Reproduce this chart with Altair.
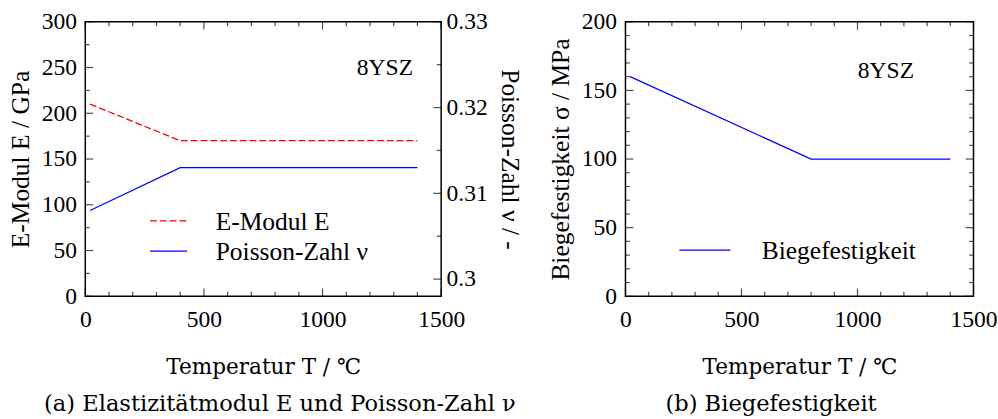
import altair as alt
import pandas as pd

# ---------------- data ----------------
temp_e = [20, 400, 1400]
e_modul = [210, 170, 170]
temp_nu = [20, 400, 1400]
poisson = [0.308, 0.313, 0.313]
temp_b = [20, 800, 1400]
biege = [160, 100, 100]

series_left = ["E-Modul E", "Poisson-Zahl ν"]
series_right = ["Biegefestigkeit"]
material = ["8YSZ"]
captions = ["(a) Elastizitätmodul E und Poisson-Zahl ν", "(b) Biegefestigkeit"]

x_major = [0, 500, 1000, 1500]
x_minor = [100, 200, 300, 400, 600, 700, 800, 900, 1100, 1200, 1300, 1400]
e_major = [0, 50, 100, 150, 200, 250, 300]
e_minor = [25, 75, 125, 175, 225, 275]
nu_major = [0.30, 0.31, 0.32, 0.33]
nu_minor = [0.305, 0.315, 0.325]
b_major = [0, 50, 100, 150, 200]
b_minor = [10, 20, 30, 40, 60, 70, 80, 90, 110, 120, 130, 140, 160, 170, 180, 190]

# ---------------- layout ----------------
W1, W2, H = 363, 355, 280
MAJ, MIN = 8, 4.5
TH = 1.2
SERIF = "Liberation Serif"
CAPF = "DejaVu Serif"

xscale = alt.Scale(domain=[0, 1500], nice=False)
escale = alt.Scale(domain=[0, 300], nice=False)
nuscale = alt.Scale(domain=[0.298, 0.33], nice=False, zero=False)
bscale = alt.Scale(domain=[0, 200], nice=False)


def x_axis():
    return alt.Axis(title="Temperatur T / ℃", values=x_major, format="d", ticks=False,
                    tickSize=0, domain=False, grid=False, labelPadding=12, labelFlush=False,
                    labelOverlap=False, titlePadding=26, titleFont=CAPF, titleFontSize=22)


def b_axis():
    return alt.Axis(title="Biegefestigkeit σ / MPa", values=b_major, orient="left",
                    ticks=False, tickSize=0, domain=False, grid=False, labelPadding=9,
                    labelFlush=False, labelOverlap=False, titlePadding=8)


def ticks(values, side, length, yscale, W, yaxis=None):
    df = pd.DataFrame({"v": values})
    base = alt.Chart(df)
    if side == "left":
        return base.mark_tick(orient="horizontal", size=length, thickness=TH, color="black",
                              xOffset=length / 2).encode(
            x=alt.value(0), y=alt.Y("v:Q", scale=yscale, axis=yaxis))
    if side == "right":
        return base.mark_tick(orient="horizontal", size=length, thickness=TH, color="black",
                              xOffset=-length / 2).encode(
            x=alt.value(W), y=alt.Y("v:Q", scale=yscale, axis=yaxis))
    if side == "top":
        return base.mark_tick(orient="vertical", size=length, thickness=TH, color="black",
                              yOffset=length / 2).encode(
            x=alt.X("v:Q", scale=xscale, axis=x_axis()), y=alt.value(0))
    return base.mark_tick(orient="vertical", size=length, thickness=TH, color="black",
                          yOffset=-length / 2).encode(
        x=alt.X("v:Q", scale=xscale, axis=x_axis()), y=alt.value(H))


def label_text(txt, x, y, size=26):
    return alt.Chart(pd.DataFrame({"t": [txt]})).mark_text(
        align="left", baseline="alphabetic", font=SERIF, fontSize=size, color="black"
    ).encode(text="t:N", x=alt.value(x), y=alt.value(y))


def legend_line(x1, x2, y, color, dash):
    props = dict(color=color, strokeWidth=1.3)
    if dash:
        props["strokeDash"] = dash
    return alt.Chart(pd.DataFrame({"a": [0]})).mark_rule(**props).encode(
        x=alt.value(x1), x2=alt.value(x2), y=alt.value(y))


# ---------------- left panel ----------------
df_e = pd.DataFrame({"T": temp_e, "E": e_modul})
df_nu = pd.DataFrame({"T": temp_nu, "nu": poisson})

e_line = alt.Chart(df_e).mark_line(color="#ff0000", strokeWidth=1.3, strokeDash=[7, 3]).encode(
    x=alt.X("T:Q", scale=xscale, axis=x_axis()),
    y=alt.Y("E:Q", scale=escale,
            axis=alt.Axis(title="E-Modul E / GPa", values=e_major, orient="left", ticks=False,
                          tickSize=0, domain=False, grid=False, labelPadding=9,
                          labelFlush=False, labelOverlap=False, titlePadding=8)),
)
nu_line = alt.Chart(df_nu).mark_line(color="#0000ff", strokeWidth=1.3).encode(
    x=alt.X("T:Q", scale=xscale, axis=x_axis()),
    y=alt.Y("nu:Q", scale=nuscale,
            axis=alt.Axis(title="Poisson-Zahl ν / -", values=nu_major, orient="right",
                          format=".2~f", ticks=False, tickSize=0, domain=False, grid=False,
                          labelPadding=5, labelFlush=False, labelOverlap=False,
                          titlePadding=10)),
)

left_layers = [
    e_line, nu_line,
    ticks(e_major, "left", MAJ, escale, W1), ticks(e_minor, "left", MIN, escale, W1),
    ticks(nu_major, "right", MAJ, nuscale, W1), ticks(nu_minor, "right", MIN, nuscale, W1),
    ticks(x_major, "top", MAJ, escale, W1), ticks(x_minor, "top", MIN, escale, W1),
    ticks(x_major, "bottom", MAJ, escale, W1), ticks(x_minor, "bottom", MIN, escale, W1),
    label_text(material[0], 277, 54, 24),
    legend_line(66, 104, 203, "#ff0000", [7, 3]),
    legend_line(66, 104, 234, "#0000ff", None),
    label_text(series_left[0], 133, 212),
    label_text(series_left[1], 133, 243),
]
left = alt.layer(*left_layers).resolve_scale(y="independent").properties(
    width=W1, height=H,
    title=alt.Title(captions[0], orient="bottom", font=CAPF, fontSize=23, fontWeight="normal",
                    color="black", anchor="middle", frame="group", dx=17, offset=16),
)

# ---------------- right panel ----------------
df_b = pd.DataFrame({"T": temp_b, "B": biege})
b_line = alt.Chart(df_b).mark_line(color="#0000ff", strokeWidth=1.3).encode(
    x=alt.X("T:Q", scale=xscale, axis=x_axis()),
    y=alt.Y("B:Q", scale=bscale, axis=b_axis()),
)
right_layers = [
    b_line,
    ticks(b_major, "left", MAJ, bscale, W2, b_axis()), ticks(b_minor, "left", MIN, bscale, W2, b_axis()),
    ticks(b_major, "right", MAJ, bscale, W2, b_axis()), ticks(b_minor, "right", MIN, bscale, W2, b_axis()),
    ticks(x_major, "top", MAJ, bscale, W2), ticks(x_minor, "top", MIN, bscale, W2),
    ticks(x_major, "bottom", MAJ, bscale, W2), ticks(x_minor, "bottom", MIN, bscale, W2),
    label_text(material[0], 237, 57, 24),
    legend_line(55, 107, 233, "#0000ff", None),
    label_text(series_right[0], 139, 242),
]
right = alt.layer(*right_layers).properties(
    width=W2, height=H,
    title=alt.Title(captions[1], orient="bottom", font=CAPF, fontSize=23, fontWeight="normal",
                    color="black", anchor="middle", frame="group", dx=-29, offset=16),
)

chart = alt.hconcat(left, right, spacing=24).properties(
    padding={"left": 7, "top": 5, "right": 0, "bottom": 0},
    background="white",
).configure_axis(
    labelFont=SERIF, labelFontSize=24, labelColor="black",
    titleFont=SERIF, titleFontSize=26, titleFontWeight="normal", titleColor="black",
).configure_view(stroke="black", strokeWidth=1.5)

chart.save("out.html", embed_options={"renderer": "svg", "actions": False})
